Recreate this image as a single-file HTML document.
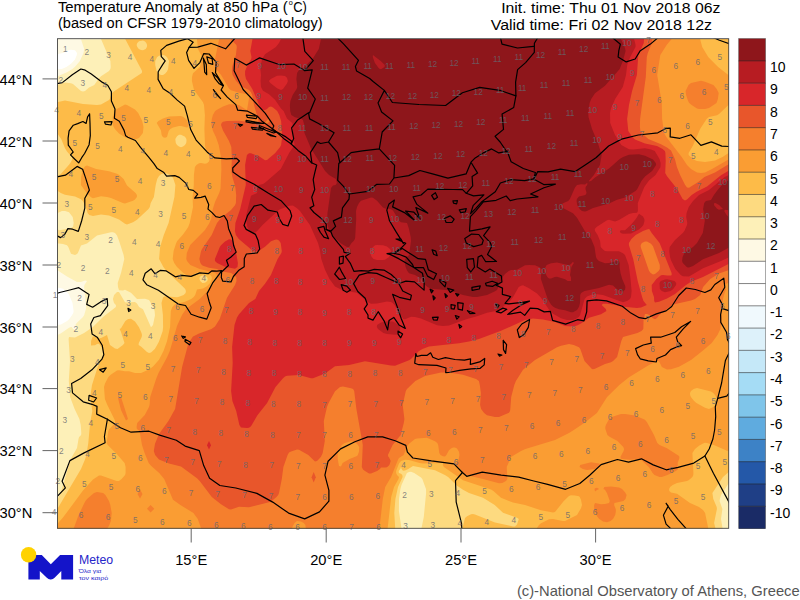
<!DOCTYPE html>
<html><head><meta charset="utf-8"><title>Temperature Anomaly at 850 hPa</title>
<style>
html,body{margin:0;padding:0;background:#fff;}
body{width:800px;height:600px;overflow:hidden;position:relative;font-family:"Liberation Sans",sans-serif;}
svg{position:absolute;left:0;top:0;}
svg text{font-family:"Liberation Sans",sans-serif;}
</style></head><body>
<svg width="800" height="600" viewBox="0 0 800 600">
<rect width="800" height="600" fill="#fff"/>
<g shape-rendering="geometricPrecision">
<rect x="57" y="39" width="672" height="489.5" fill="#fff"/>
<path fill="#FEF9E4" d="M71 49.7L75 50.3L77 53L76.8 55L75 59.4L71 63.8L66.4 67L61.8 69L57 69.2L57 288.3L59 287.8L63 288.7L67 292L69 294.6L72.5 303L73.6 311L73.3 313L72.1 315L69.3 319L67.1 321L61 324.5L57 325.1L57 528.5L729 528.5L729 39L57 39L57 54.9L59 53.8L63 53L69 50.0Z"/>
<path fill="#FDF0B8" d="M81 39.2L84.2 49L83.5 53L79.9 61L75 66.8L72.4 69L67 72.2L57 76.5L57 269.9L67 276.6L77 281.9L81 282L85 280.6L87 281L84.4 285L84.1 287L86.1 305L85.9 309L84.2 315L83 316.9L76.7 323L75.4 325L77 326.9L77 329L75 330.3L73.1 329L71.7 327L71 326.9L69 327.7L61 333.2L57 335.3L57 440.3L58.1 449L57 470.5L57 528.5L729 528.5L729 39.0Z"/>
<path fill="#FDDA80" d="M101 39L110.4 61L110.7 67L110.4 69L109 71L101 76.3L98.4 79L94.3 85L89 87.6L85 91L83 91.6L81 91L73 83.9L71 83.3L65 82.6L57 84.9L57 214.5L57.7 213L61.9 211L65.1 211L69 212.3L72.7 217L73.7 223L73 226.8L71 228.1L61 230.1L59 230.2L57 229L57 243.3L63 244L67 245.2L68.3 247L71 253.8L75 254.9L77 254.1L77.9 253L81 245.5L87 243.6L97 235.5L111 232.2L113 232.3L115 233.1L117 235.6L119 240.7L123.6 255L124.3 259L121 273L117.7 283L118 287L119 290.3L123 290.5L125 289.8L131 292.7L137 298.9L145 298.7L149 300.1L150.9 303L151.4 305L153.3 307L154.6 311L155 315.2L153 324.9L151 327.3L143 309.2L139.1 307L137 303.4L135 301.9L127 302.5L125 302.2L119 292L117 291.9L114.1 295L112.9 299L114 303L115.9 305L115.9 307L103 317L92.9 327L84.1 333L75 337.6L69 337L68.6 339L70 361L68.8 381L70.1 397L74.6 409L79.4 419L80.7 425L81.3 433L81.1 435L79.1 437L78.5 439L77 447.9L70.7 459L60.7 493L57 500.6L57 528.5L401.5 528.5L398.9 511L399 498.9L400.4 489L401.5 485L406.9 473L409 472L411 471.8L414.2 473L421 477.5L422.3 479L426 489L426.1 493L423.8 517L421.4 528.5L722.6 528.5L721 519L722.4 509L719.6 501L719.9 499L721 494.9L729 482.7L729 39.0Z"/>
<path fill="#FDBB48" d="M125.2 39L142.1 71L141.8 73L114.5 91L112.1 93L111 94.9L109.8 99L109 100.1L101 104.5L97 104.9L83 103.9L65 100.6L57 102.2L57 133L61.2 139L65 148.2L67 151.4L71.8 157L72.4 159L71 162L69 164.7L61 173.7L57 177L57 190.6L60.8 193L65 194.8L75 196.4L81 199.3L82.8 201L84 203L85.9 207L87.6 213L89.2 215L93 216L101 214.6L109 215.5L119 219.6L125 223.8L127 224.5L133 222.3L137 219.8L148.5 209L149.8 207L150.7 203L153.9 197L155.7 185L157.2 179L159 176.1L161 174.2L165 173L167 173.4L169.9 175L173 177.7L175.4 185L174.4 197L168.6 223L163.8 235L160.1 247L159.1 259L163.4 267L166.4 271L183 286.7L185.2 289L185.9 291L185.6 293L183.6 295L179 296.8L177 297.2L165 296.3L163 297.5L161.5 303L162.9 315L163.1 327L162.7 331L159 341.4L157 345.2L154.8 349L151 352.4L149 353.1L147 352.1L141 346.4L138.6 345L138.8 343L141.7 337L142 335L141.5 333L139 327.3L135 321.5L131 318.7L128.1 319L125.3 321L121 328.3L119.6 329L121 331.9L124.5 343L122.9 345L117.5 349L115 348.6L110 345L107 335.1L101 337.9L99 338.2L95 336.6L93 336.5L92.5 337L91.1 341L91 345.5L95 345.2L97 344L99 343.8L101.4 347L103.4 353L103.4 355L97.7 367L92 385L90.2 397L92.3 411L90.1 423L88.3 443L86.4 455L85 459.6L81 469L57 509.6L57 528.5L395.2 528.5L394.3 513L395.4 499L398 487L402.6 477L402.3 475L401 473.8L398.9 473L398.7 471L400.3 469L401 466.7L401.6 469L403 470.8L405 470.5L408.3 469L413 466L435 470.3L444.9 475L448.1 477L457 485.8L463 489.8L469 493L483 497.8L494.7 505L503 512.7L517 517.8L518.8 519L517 524.4L515 526.5L513 526.5L495 522.4L475 514.6L473 514.1L471 514.3L467 516.2L465 518.1L462.4 528.5L715.5 528.5L714.1 523L716.9 509L716.7 507L713.3 499L712.4 493L723 477L729 471.8L729 39.0ZM147.1 45L146.9 47L145.7 49L143 50.3L141 50.1L138.8 49L137.3 47L136.6 45L137.3 43L139 41.3L143 40.6L145 41.6L146.3 43.0ZM167 57.2L169 61L168.1 69L167 71.5L165 73.7L163 75.1L161 74.9L159 73.9L156.6 71L155.2 65L155.2 61L157 57.3L159 55.7L163 55L165 55.4ZM185 136.7L186.4 139L186.5 141L186.2 143L185 145L183 146.5L181 147.2L179 146.6L177 145.1L175.8 143L175.3 139L177 136.2L179 134.8L181 134.7ZM207 276.9L207.8 279L207.3 281L205 282.8L202.4 283L200.2 281L199.5 279L199.8 277L201 276.1L203 275.2Z"/>
<path fill="#FA9D33" d="M196.9 39L198 49L201.1 55L201.9 59L199.8 67L193 73.2L192 77L191.9 81L193.8 89L194.8 91L203 102.3L204 105L204.9 115L204.4 129L205 145.8L205.9 149L209 155L209.6 159L209 161.4L207 163.2L205 163.7L201 162.9L199 163.3L196.4 165L194.9 167L193.9 175L193.8 185L192.6 197L193 207L189.7 223L188.2 227L186.9 229L183 234.4L177.2 241L176.2 243L173.6 251L172.7 259L174.2 263L177 267L183 272.8L189 277L191 276.8L192.5 275L195.9 273L199 272.3L203 272.3L206 273L210.4 275L211.8 277L211.8 279L210.2 283L207 286.3L203 288.5L197 289.6L195.2 295L193.7 297L191.2 299L185 301.7L175 304.3L172.3 307L170.8 311L170.1 327L167 341.2L163.5 351L159 359.8L153 366.5L149 369.6L141 373L135 373L129 371.2L125 371.2L119 370.3L117 370.6L111 374.4L108.4 377L105 383.4L104 387L104.9 399L107 404.3L115 420.6L115.1 423L109.3 429L108.3 431L106.6 443L107.7 445L117 454.3L124.6 463L125.6 467L125.6 473L125.1 475L121.6 479L119 481.1L116.6 481L101 475.4L99 475.5L93 479.5L83 490.5L63 517.6L57 524.2L57 528.5L387.6 528.5L391.2 497L394 487L398.5 479L399 477L397 475L396.1 473L396.1 471L399 463.5L401 461L405 459.8L409 460L419.5 463L423 463.4L443 462.9L442.8 465L443.9 467L463 480.2L491 489.6L493.4 491L501 497.8L509 501.1L513 502.5L525 505L541 510.3L553 512.5L555 512L563.8 501L569 496L571 495.2L575 495.4L579 496.3L579.7 497L581 499.7L582 505L581 508.2L577 515.1L565 521L562.7 521L553 519.1L549 519.3L541 523.2L539 525L536.6 528.5L708.3 528.5L705.1 513L703 510L699 506.9L690 503L677 493.7L671 492.5L669.3 491L669.1 489L670.1 487L672.7 485L677 483L687 481.1L689 480L692.4 477L693.3 475L693.4 473L692.4 453L695 449.1L699 445.7L703 443.5L705 442.8L707 443L713.8 445L727 450.7L729 450.9L729 152.8L722.5 157L715 160.5L705 162.1L697 160.9L693 159.3L688.6 155L688.6 153L693 145.5L700.1 129L706.6 119L709 117L717 115.2L719 114.1L729 104.5L729 75.6L718.1 67L708.2 57L702.2 47L700.1 39.0ZM697 387.9L711 391.6L713.3 393L715 395L716.2 397L716.5 399L716.1 403L715.5 405L713.4 407L709 408.9L705 407.7L696.4 403L694.1 401L690.9 397L690.1 395L690 393L691 391L693.6 389.0ZM125 104.5L116.8 109L114.8 111L112.7 117L112.7 125L114.8 129L119 133.6L125 137.2L131 139.2L136.5 139L139 138.1L142.9 133L143.5 127L142.2 121L138.2 113L135 109.4L127 104.9ZM163 118.4L158.4 121L156.7 123L161 130.5L161.6 135L163 137.3L165 137.7L167 137L168.7 131L170.3 129L173 127.5L179 126L181 125.9L187 127.5L188.2 127L188.5 125L187 120L183.5 117L181 115.9L169 116.6ZM83.1 169L81.1 177L80.9 185L86.7 193L91 197.2L93 198.3L101 196.3L107 197L111 198L122.8 203L125 203.4L133 200.8L135 199.6L136.9 197L136.9 195L135.6 193L127 185.5L123.6 179L119.2 175L117 173.7L109 171.3L96.1 169L87 165.4L85 166.2Z"/>
<path fill="#F57F2D" d="M219.2 39L215 59L215.2 67L216.2 69L221.1 75L229 88.4L231 90.3L239 92.8L247 94.2L248.6 95L249.2 97L247 110.2L239 105.1L233 104.2L229 104.3L223 106.5L217 109.7L215 111.3L212.9 115L211.8 119L211.3 125L213 131L215.9 137L218.7 145L221 157L221.4 169L220.5 189L219.2 193L215 202L212.8 209L211.2 219L209 223.8L205 230L190.2 245L186.8 253L186.3 259L187 261.1L190.4 265L199.7 269L215 272.7L217.2 275L217.3 277L212.7 285L207 291.8L199.7 299L186.1 309L182 315L177 326L169.8 351L167.2 357L158.5 373L156.1 379L150.2 397L149.6 405L149 407L144.8 415L137.2 423L136.6 427L136.9 429L139 430.6L139.9 433L142 445L144.6 453L148.7 463L151 465.7L159.2 473L164.2 479L173 499.7L180.4 505L193.4 513L197.8 519L201.2 528.5L292.2 528.5L292.4 527L294.5 523L297 521.1L301 521.6L303.8 523L305.4 525L305.8 528.5L379.4 528.5L382.8 499L385.2 487L391.1 477L398.3 459L399 458L403.7 455L407 446.5L409 443.8L415 439L417 438.5L427 437.7L435 441.2L437.3 443L438.2 445L439.3 453L440.5 455L443 456.3L445 456.6L446.4 455L449 450.3L451 448.6L453 447.5L455 447.5L457 448.5L459 451.7L459.5 455L458.7 459L457 461.9L455.7 463L455.8 465L459 466.9L463.7 473L466 475L483 478.9L499 483.3L502.3 483L506 481L507.4 479L506.7 467L511 457.1L513 455.7L521 450.9L525.4 449L555 439.9L569 433L573 430.5L584.2 423L596.9 413L607.1 397L619.3 385L629 377.2L649 364.9L657 361.1L659 360.9L661.8 367L667 369.4L671 369.2L679 366.7L691 359.9L703 350.4L711.7 343L717.5 335L720.4 329L721.8 317L720.6 311L720.7 309L724 295L726.1 289L724.4 287L724.5 285L727.6 283L729 282.7L729 159.3L712 169L705 172.4L701 173L697 172.5L691 169L687 165.1L681.7 157L666.3 137L664.1 133L662.1 119L661.8 103L657.2 75L660.3 55L667 44.5L671.7 39.0ZM357 443.8L359.3 447L359 451.6L357.8 455L357 455.9L349.5 459L342.6 463L341 466.6L339 466L337.7 459L337.7 453L341.8 445L344.7 443L351 441.2L353 441.5ZM691 82.9L688.5 85L685.6 91L686.1 95L688.1 101L689.2 103L691.6 105L697 108.4L699 108.9L705 109L709 108.1L716.5 103L717.9 99L718.7 93L716.7 89L713.4 85L705 81.7L701 80.8ZM611.5 417L609.1 419L605.9 425L605.3 427L605.4 429L607.4 435L610 437L617.5 441L623.3 447L624.1 449L623.6 451L620.4 457L621 458.7L629 459.8L639 459.2L641 459.8L649 467.2L652.6 473L654.5 475L659.5 477L661.8 477L667.4 475L675.9 471L678.2 469L677.6 463L679.1 459L679.4 457L679 456.1L667 448.2L659.6 445L657.3 443L654 435L647 422.3L645 419.8L635 415.5L625 414L621 414.1ZM591 462.3L580.1 465L579.6 467L582.8 469L587 469.9L595 468.9L599.2 467L601 465L599 463.4ZM605 489.8L607 493.2L609.8 501L609 502.9L605 504L601 504.2L595 503L594.2 505L594.1 507L594.5 511L597 516.2L599 518.8L603 521.6L607 522.2L610.5 521L613 519L615.2 515L615.9 511L615.7 509L614.1 505L614.4 503L623.4 501L625.5 499L626.6 495L625 492.2L622.1 489L619 487.6L611 486.4L604.3 487L603.4 489.0ZM594.5 489L595 491.6L597 489.9L599.1 489L597 487.7L595 488.2ZM94 493L87 498.9L85 501.8L78.6 515L73.7 528.5L107.2 528.5L109 525.7L110.9 521L111.7 513L110.3 505L109 501L105.4 495L103.1 493L97 492.1Z"/>
<path fill="#E8562B" d="M230.6 39L236.4 45L236.8 47L235.9 55L232.1 67L231.9 71L232.6 75L236.1 81L239.8 85L242.4 87L249 89.9L251 92.3L252.2 95L254 105L258.6 121L257 122.9L239 120.8L227 120.9L223 121.8L221.6 123L221 125L223 130.4L229 141L231.3 147L231.9 159L231.3 171L232.4 177L235.3 187L236.2 195L235.9 203L235 205.2L231 210.1L221 217.9L217 223L211.7 235L202 249L201 251.2L199.4 259L200.4 263L201.8 265L203 265.7L209 267.8L217 269.1L221 271.2L231.2 273L236.2 277L236.5 281L235 285L227 297.7L219.7 319L215 326.4L211.5 329L199 333.5L193 336.6L188.5 343L182.1 367L175.1 409L168.4 421L159 433.9L155 443.8L153.8 451L155.1 455L159 459.5L169 463.6L181 466.5L197 478.3L199.7 481L211.8 497L221 504.2L229 509.3L231 509.5L239 506.8L249 507.3L269 502.3L271.8 501L276.5 497L278.2 495L279 493L281.8 479L283.4 467L287.6 455L289 452.6L291 451.4L297 449.4L299 449.8L308.3 455L315 461.5L317 461.1L319 459.1L321 456.8L322.7 453L324.8 441L323.8 421L327 407L328.6 403L335 391.3L340 387L343 386.4L351 388.2L353.1 389L354.2 391L356.4 409L362.8 445L361.8 467L363 469.6L365 471.1L369 473.4L371 473.4L377.1 471L379.9 469L381 467.4L385 467.6L387 467.2L389.4 465L390.7 461L389 457.2L388.4 457L387.9 455L392.6 445L400.7 435L403.8 423L404.4 419L402.7 405L405.8 391L407 389L415.3 381L425 376.1L441 372.5L451 372.7L463 374.7L476.1 379L478.9 381L479.8 385L480.9 393L480.1 405L481.1 409L484.1 413L487 415.2L495 417.1L499 416.9L509 412.7L510 411L510.3 409L511.2 397L514.3 385L515.9 381L523 369.7L535 360L557 347.2L561 345.7L569 344.1L573.7 345L579 347.2L580.3 349L584.5 361L591.9 369L593 369.3L595 368.8L605 364.1L611 362.2L613.1 361L617.1 357L621.3 341L623 337.1L637.4 333L641.5 331L643.3 329L643.6 319L645 314L647 313.9L649.3 315L653 318.2L655 319.2L657 318L659.3 315L661.7 313L673 304.5L691 300.5L695 299L700.2 295L703.1 287L710.2 279L719 273.6L729 269.9L729 164L715 172.6L704.4 177L699 181.4L689 187.8L687 187.6L685 184.8L680.1 175L676.9 167L674.9 159L671 150.6L667 147.5L661 144.2L648.3 139L643.9 135L640.4 131L639.9 127L640.1 119L645.8 77L646.8 57L647.8 53L651.9 43L652.3 39.0ZM269 121.9L267 123.6L265 123.9L262.6 123L265 122.2L269 118.3L269.9 119.0ZM647 241.4L651 243.7L653 246.3L659.8 265L659.8 269L658.6 271L655 273.9L653 274.4L650.7 273L649 270.7L640.7 247L640.7 245L641.9 243L645 241.4Z"/>
<path fill="#D8262A" d="M252.5 39L250.3 51L251.5 57L251.2 59L247.6 65L245.1 71L245.1 75L246 79L252.3 89L261 109.3L263 110.2L265 110L267 109.1L269 107.1L271 106.6L273 107.4L277.2 111L279.3 115L281.1 121L282.2 137L281.1 145L280.1 147L275 153.3L267 159.9L265 160.2L259 156.3L251 153.3L249 153.3L246.9 155L245.1 165L245.8 185L240.2 209L235.4 223L234.9 231L235.9 235L238.8 239L253 251L255 251.8L259 250.7L265 246.8L271 241.3L275 239.7L277 239.5L279 240.4L280.7 243L281.8 251L281.4 253L277.6 259L270.9 275L265 283.7L259 290.9L255.3 299L249 303.1L239 314.2L237 317.5L234.5 325L232.1 347L232.7 363L231.1 391L232.4 401L236.2 411L239.4 425L241 427.4L247 428.1L249 427.8L251 426.2L257.6 415L267.1 403L275.5 387L283 378.2L285 376.5L287 375.8L299 375.1L311 378.3L313 378.3L325 373.5L335 366.3L349.2 365L365 361.2L391 365.5L395 365.7L409 360.3L411 359L419 351L422.4 349L429 346.4L459 343.2L469 341.5L479 339L501 330.8L525 320L533 318.6L543 319.5L555 322L565 326.1L573 326.4L577 325.5L581 323.5L589 317.8L601 314.2L606.4 311L605.8 309L601.6 305L603 303.8L607 303.8L615.1 305L621 306.6L637 308.1L641 307.5L646.8 305L643.5 301L642.1 297L637.7 281L633.2 259L628.9 245L628.9 243L631.4 239L635.7 235L643 230.9L647 229.5L649.2 229L651.7 233L659.6 243L671.6 273L671.7 275L671 275.4L667 275.6L663 274.9L661 275.2L656.4 279L651.7 285L651.9 291L654 297L654.2 301L655 302.5L659 301.7L667 298.5L675 293.9L686 285L691 281.7L703 276.9L729 263.7L729 170.4L721 175.3L707 186.6L697 191.4L691.7 195L687 199.4L685 200.4L682.6 199L677 188.8L667 176.3L665.2 173L665.7 161L665.4 153L664.9 151L662.6 149L657 146.1L645 143.5L635 139.5L632.3 137L628.3 131L627.1 119L629 105L632.1 91L636.9 75L638.3 55L643.8 43L644 39.0ZM225 241.5L221 245.2L219.8 247L214.9 259L215 261L217.1 263L225 266.8L235 268.8L237.5 267L237.9 263L235.8 251L233.1 241L231 239.4L229 239.2Z"/>
<path fill="#B71C22" d="M279 43.1L275.9 47L265 54.2L262.2 59L260.2 67L261 75L260.6 81L261 87L263 90.8L269 94.3L275 99.7L281 108.6L283.6 111L287 118.4L292.2 123L292.8 125L293 133L294.6 145L289.1 153L280.8 169L265 182.8L263 184.1L258.7 185L257.7 187L257.1 193L251 195.8L246.2 215L246 219L247.4 227L249 230.3L251 232.2L253 232.9L255 232.6L257 231.2L262.5 225L279 209.7L289 205.8L293 205.6L297 208.2L300 211L309.9 225L318 243L319.7 249L321.3 259L325 269.8L329.5 279L335 286.6L343 290.6L357 292.7L367 301.6L371 303.7L377 303.4L387 301.5L391 302.1L392.7 303L394.5 305L403.3 319L405 319.3L411 316.8L415 316.9L421 318.6L437 325.3L443 326.1L449 325.5L467 319L477 316.3L487 312.8L497 310.7L503 306.8L510 301L513.1 297L518.7 287L521 285.7L523 285.3L529 288.2L537 293.5L541 297.7L548.6 309L553 313.8L561 318.2L567 319.9L573 319.9L575.6 319L579 316.8L580.1 315L584.6 299L587 296.6L590.7 295L595 294.1L603 295.1L623 302.2L627 301L630 299L631 297L631.6 291L630.5 279L628.7 265L625 255L623 253.2L619 251.2L607 251.2L605 250.9L603 249.6L600.7 247L600.1 241L597.6 235L595 231L594.7 229L596.5 227L607 220.2L609 219.7L615 221.6L619 219.9L629 214L633 212.9L637 212.8L637.9 211L637.8 203L644.3 187L649 180.4L655.5 175L660.5 167L660.6 163L659.5 159L654.8 151L651 149.4L645 148.3L633 149.4L629 149.3L621.3 145L615 135L610.2 123L610 113L610.8 109L615.1 99L622.8 87L626 75L627.2 65L630.2 57L635.5 47L635.6 45L634.1 39L281 39.0ZM285 75.9L287 77.8L287.9 81L287 83.4L283 88.9L281 89.9L277 88.2L270.3 83L268.9 81L270.8 79L277 75.7L281 75.4ZM383 245.2L387 246.6L390 249L390.9 251L390.7 253L389 257L385 259.8L383 260.1L377 260.1L373.5 259L371.7 257L370.8 255L370.3 251L371 249L375 245.3L377 244.9ZM724.7 177L709 189.9L699 195L693 201L688.7 207L686.6 213L686.2 217L687.3 223L687 225L684.4 231L682.8 233L675 240L669.7 247L669.3 251L670 257L671 260.2L675.3 269L681 275.2L683 276.3L689 276.6L703 268.2L721 261L729 257.2L729 175.0ZM635.8 219L631 224.7L625 230.3L621 230.2L619.8 231L620.6 233L623 233.8L631 233.4L639 229.4L641.7 227L643.4 225L644.5 221L644.3 219L643 216.5L639 213.8ZM659.5 283L659.9 289L661.8 291L665 292.3L670.6 291L673 289.3L676.1 285L676.2 283L674.5 281L667 279.3L665 279.4L660.7 281.0ZM387 321.2L381 322.4L377 325L376.9 327L378 329L383.4 333L387 334.1L395 334.8L397 334.6L399 333L400.2 329L400.1 327L399 325L393 321.5Z"/>
<path fill="#8E161B" d="M321 39L318.8 49L313 58.2L304.3 67L299 70.1L297.1 73L296.4 79L297.3 87L296.6 89L292.7 95L290.4 101L289.9 105L290.2 111L291.3 115L295 117.2L301.8 119L303 120.3L304.3 125L304.1 131L304.5 133L311 148.6L325.1 171L329 175L335.9 179L336.9 183L335.6 185L333 185.6L331 188L327.5 213L327.1 223L329 229.9L330.7 233L335 238.1L341 243.5L347 246.9L349 246.9L351.5 243L353.6 241L354.9 239L355.2 237L356.2 219L356 211L357 207L359 203.1L361 200.8L371 197.5L373 197.7L377 200.8L383 207.6L385 208.6L391 209.3L393 210.6L399.4 221L401 222.2L407 223.1L409 229L410.7 237L411 241L409 255L405 259L404.4 261L405.6 267L407 270.5L409 273.3L415 275.1L419 277.3L421.1 279L425.2 285L427.6 287L431 288.8L449 290.2L463 295.1L473 297.1L477 297.1L487 295L495 291.3L497 289.9L503 276.4L505 273.9L508.7 271L511 270.1L517 269.7L525 265.3L529 264.9L535 265.3L539 267L541.8 269L542.4 271L542.1 273L541 274.8L540.9 279L547.7 299L551 304.5L553 306.5L555 307.8L559 309.2L565 310.3L571 312.2L573 312.2L577 309.9L579 306.8L580 303L580.2 295L581.1 293L584.5 291L599 288.1L609 284.8L613 285.5L617 289.3L621 291.2L623 291.4L625 289.7L625.4 287L625 285.5L622.2 279L620.5 273L619.6 267L619.7 263L619 261L617 261.1L609 263.1L605 263.3L598.9 261L596.9 259L596 257L594.5 247L591.2 239L584.8 231L577 217.8L573 213.2L560.9 207L561 205L563 203.3L568.2 201L569.9 199L575 187.5L577 185L581 184.2L585 184.5L587 182.9L587.4 183L587.2 185L585.6 187L585.5 189L586.6 193L585.4 195L579 196.5L576.9 199L576.6 201L577.2 205L579.7 209L581.9 211L585 211.6L586.9 211L593 208L609 203.6L617 199.7L625 197.4L635.4 191L637 189.4L641.4 181L645 176.5L652.1 171L656.1 165L655.8 163L653 159.6L645 155.8L639 154.2L629 154.7L623.1 157L619.7 159L609 168.5L595 177.5L591 181.1L589 181.5L588.8 181L593.9 175L599.9 165L601.7 155L597.9 143L592 129L588.5 117L588.3 113L589.6 103L591.2 99L595 93.3L605 85.8L619.7 69L623 60.6L625.6 51L625 48.1L621 39.0ZM372.9 55L380.7 61L384.8 65L384.5 67L381 69.2L379 68.6L374.9 63L372.8 57.0ZM557 262.4L569 265.2L571 264.1L573 261.7L573.8 263L571.4 267L570 275L571 277.4L571.1 281L567.7 281L565 279.3L557 276.8L554.8 277L551 278.5L549 278.6L547.3 277L544 271L544.4 269L546.7 265L551 263.3ZM727 181.1L723 183.9L718.4 189L713.9 195L711 200L705.9 201L704.2 203L703.1 209L704.6 217L704.8 221L702.8 233L697 243.1L693 247L684.4 253L682.6 257L682.1 261L682.8 263L687 267.3L689 267.4L693 265.9L703 259.2L719 253L729 247.6L729 217.6L726.6 215L724.2 211L725 209.7L729 210.2L729 180.4ZM715.4 203L719.1 205L723 209L719 209.7L717 208.7L713.9 205L714.3 203.0Z"/>
<path fill="#D8262A" d="M209 441L211 445.300L209 449.500L207 445.300Z"/>
<path fill="#F57F2D" d="M140 489.500L142.500 494L140 498.500L137.500 494ZM150.600 505L154.300 508.700L150.600 512.500L147 508.700ZM118 398L121 397L124.500 408L128 419L126 420.500L121 410Z"/>
<path fill="#E8562B" d="M313.700 472L315.800 477.300L313.700 482.500L311.600 477.300Z"/>
</g>
<defs><clipPath id="fc"><rect x="57.500" y="38.7" width="671.2" height="489.6"/></clipPath></defs>
<g fill="none" stroke="#000" stroke-width="1.2" stroke-linejoin="round" stroke-linecap="round" clip-path="url(#fc)">
<path d="M36.4 89.8L50.7 84.7L62.3 82.6L72.3 74.7L80.9 69.0L85.2 70.2L91.3 74.0L102.5 82.4L107.7 85.2L111.4 91.8L111.4 101.0L115.0 109.1L114.4 118.3L119.3 121.3L124.0 130.1L125.7 135.8L127.8 137.3L135.4 140.5L140.5 147.4L148.7 157.1L153.9 163.7L157.3 168.6L163.5 172.2L166.6 176.2L174.8 175.6L179.2 177.4L185.7 183.1L188.8 189.5L193.3 190.4L197.7 194.1L194.7 198.2L201.0 197.3L205.1 196.1L208.7 204.6L208.0 209.1L211.8 212.4L215.8 216.6L219.7 217.5L224.0 215.5L227.3 220.9L228.6 228.7L232.4 237.8L233.7 245.8L236.2 252.1L230.7 257.3L226.5 260.2L228.4 265.5L221.6 272.0L221.3 277.5L222.8 281.2L231.0 281.9L233.4 276.5L238.5 270.6L244.2 266.8L244.3 258.5L246.4 254.0L257.2 252.9L259.7 249.0L258.1 240.6L255.5 234.4L246.2 229.4L244.0 225.4L247.5 215.7L254.1 206.1L261.2 204.5L268.0 210.2L277.3 212.0L279.4 218.8L282.8 224.4L288.0 226.0L291.7 216.0L290.1 210.7L281.0 200.7L268.5 193.3L254.2 184.3L241.4 177.9L232.9 172.0L232.7 168.0L239.4 161.0L236.6 158.4L226.3 158.8L214.9 157.9L207.3 152.2L196.1 140.1L190.7 129.6L187.3 115.6L184.6 106.1L177.3 100.1L170.1 93.3L163.2 88.8L158.1 79.4L158.2 71.7L162.8 64.4L165.2 60.9L161.3 56.6L160.8 50.4L166.6 45.4L178.8 41.1L187.6 38.7L193.2 42.2L189.1 47.4L186.6 52.4L188.6 60.3L194.0 68.4L199.9 62.6L203.8 53.6L209.1 54.0L216.2 62.1L215.5 72.8L219.5 79.2L223.5 85.5L221.1 90.0L227.3 97.1L235.8 104.6L237.7 110.2L247.6 111.2L257.4 116.2L261.7 120.9L269.3 126.4L274.8 130.5L283.6 138.4L291.3 144.1L293.6 146.3L298.0 150.4L305.9 156.3L311.5 162.8L316.7 165.0L314.8 172.6L313.2 179.7L314.7 189.5L311.7 197.2L313.9 205.8L310.0 207.9L313.9 212.5L321.6 218.7L326.2 224.2L326.2 229.5L331.0 231.9L332.6 236.2L338.1 243.2L343.4 249.3L344.1 252.4L350.1 253.3L345.3 256.4L350.2 263.1L353.9 271.3L361.1 270.6L368.3 271.1L374.3 269.4L383.9 270.1L391.2 274.5L397.5 280.4L397.5 282.6L386.5 277.7L376.8 273.4L368.3 272.6L359.2 275.2L353.6 283.6L357.8 291.5L365.2 298.2L367.3 304.3L364.2 308.9L368.0 315.0L368.0 318.1L373.0 320.1L378.2 311.7L384.1 320.8L387.6 329.9L389.0 320.6L393.8 317.4L399.0 324.9L405.3 328.4L401.3 318.7L397.2 306.6L392.6 294.4L399.3 297.3L410.4 299.9L411.4 295.3L402.7 291.0L398.8 283.5L406.0 281.1L414.5 281.9L424.1 290.1L424.2 282.4L422.5 273.3L413.8 267.5L406.5 263.2L399.1 258.9L390.6 254.6L387.0 253.7L394.1 252.9L401.1 248.1L405.7 243.3L399.6 240.4L396.0 239.0L400.8 238.9L403.3 243.4L395.8 231.4L389.5 220.8L386.8 210.1L389.0 203.9L394.4 200.1L392.6 206.9L404.4 212.6L414.1 219.9L405.6 211.0L413.8 212.2L420.0 219.0L415.9 207.5L427.9 213.1L416.9 204.4L413.1 196.9L421.1 195.0L427.8 189.1L441.7 189.3L453.3 189.5L462.6 189.6L466.3 193.3L473.5 195.9L483.9 194.8L473.1 205.7L470.6 213.6L475.6 208.6L482.1 201.4L495.3 191.7L500.4 183.0L510.5 179.6L524.6 180.7L533.7 178.9L535.4 172.5L523.3 168.5L511.1 161.7L508.1 153.6L500.1 142.0L495.1 136.3L503.5 129.4L502.1 114.1L513.7 107.5L515.9 95.9L515.6 82.1L517.6 69.6L525.6 62.6L534.3 52.4L534.4 43.2L543.4 28.3L551.0 19.7M534.8 177.8L537.6 171.7L548.1 171.8L560.6 169.1L574.9 171.7L587.8 163.3L596.3 157.5L608.6 146.0L621.5 139.1L638.3 135.0L657.8 132.8L666.3 128.3L670.3 128.2L670.2 136.9L679.9 138.3L691.0 134.8L700.9 145.4L711.4 141.9L721.8 146.1L736.4 146.9L753.0 145.9L775.4 138.0M533.7 178.9L543.7 184.6L555.4 184.2L544.0 187.7L530.6 194.0L538.0 196.9L517.1 199.0L510.2 200.6L506.2 196.0L496.1 200.3L483.3 201.9L475.8 210.8L470.4 216.7L469.5 231.2L481.9 228.8L490.1 226.9L483.6 235.7L490.1 242.3L491.7 246.5L487.5 254.5L496.5 261.5L485.7 261.7L481.6 255.3L478.1 257.1L477.2 267.0L485.3 271.9L489.9 269.1L501.4 275.9L501.9 282.0L496.1 285.2L502.5 288.1L502.3 294.3L510.6 296.6L505.0 303.3L508.8 303.9L522.2 302.4L529.5 301.1L521.2 304.9L513.0 310.3L507.7 314.4L520.6 312.1L524.7 315.4L530.2 308.1L537.7 308.6L544.2 311.9L550.4 311.3L552.6 320.3L565.6 324.1L577.6 319.7L584.0 320.8L586.7 311.8L587.1 300.9L596.4 299.8L606.5 300.9L622.3 306.2L630.9 313.1L639.2 317.7L645.2 318.7L656.4 313.9L666.1 310.9L671.7 306.5L678.7 295.5L686.3 288.0L695.4 289.5L704.9 292.5L710.8 289.9L714.8 284.5L723.8 278.2L724.8 287.3L718.7 297.8L722.6 304.9L720.6 314.6L720.8 322.4L726.5 332.2L727.5 339.8L732.1 347.4L728.8 353.6L725.4 360.5L723.5 371.7L721.6 383.0L719.3 392.1L717.7 398.3L715.3 406.9L715.7 416.8L714.6 430.0L712.9 439.0L709.2 449.0L704.9 456.0L693.8 463.1L678.1 467.4L666.2 469.8L653.2 464.9L641.5 458.8L628.5 462.1L617.4 459.5L601.1 464.6L589.7 475.2L579.8 483.5L565.6 489.3L547.6 484.3L533.8 481.0L518.7 477.1L501.2 475.1L482.3 472.2L466.7 476.3L462.4 472.5L454.0 463.8L431.4 460.9L412.9 458.0L407.4 452.1L405.8 445.4L395.2 440.8L382.6 436.9L367.8 436.9L354.9 441.7L340.6 448.9L328.1 461.2L324.9 475.1L328.9 490.4L328.9 501.2L319.5 511.9L304.7 518.9L288.6 513.1L272.7 502.1L256.9 493.4L235.8 488.0L219.9 485.5L209.6 478.2L203.7 465.6L199.3 450.6L185.1 446.1L176.3 440.3L159.7 435.1L149.0 431.2L131.1 432.2L120.5 427.8L107.4 419.2L96.7 414.1L97.0 406.4L92.0 404.3L83.2 401.8L72.5 392.9L71.6 383.5L80.7 378.4L91.9 369.8L102.0 359.1L103.8 354.7L102.2 345.2L97.5 337.6L92.1 334.0L90.7 323.9L93.9 317.5L100.4 315.7L107.7 305.7L107.2 298.6L100.6 301.9L92.6 307.2L86.7 304.4L89.1 294.4L83.3 290.7L78.8 287.7L69.8 290.0L59.6 292.5L50.4 295.6L39.3 295.1L26.9 294.3M221.7 270.7L219.1 274.3L212.5 283.2L207.1 293.6L209.1 301.4L211.2 307.7L206.8 319.1L199.5 317.2L191.1 314.2L185.5 305.5L178.2 304.1L169.6 297.9L158.4 290.3L146.7 284.7L143.0 279.8L145.2 273.2L151.2 268.8L154.9 273.7L160.1 270.4L166.3 270.9L175.3 276.8L182.0 275.4L191.1 276.4L199.8 272.9L208.2 273.7L212.0 270.8L216.8 271.1L221.7 270.7M38.1 169.0L54.0 172.7L58.2 176.7L65.4 175.2L77.1 166.4L82.6 169.3L85.5 177.6L89.4 190.1L84.8 198.3L84.8 208.1L81.6 221.0L78.3 231.4L72.6 229.2L67.9 228.6L64.7 234.4L60.6 237.6L55.0 234.7L50.4 232.5L29.9 223.5M89.6 113.9L90.0 123.2L90.3 135.6L89.1 144.7L84.6 153.5L81.7 157.7L78.7 162.9L74.6 159.0L70.5 154.8L73.2 152.0L68.3 145.2L68.1 138.1L69.1 130.8L73.3 125.2L77.7 123.6L82.9 121.5L86.1 123.4L87.6 116.8L89.6 113.9M415.8 353.5L416.9 356.5L421.4 355.4L426.9 355.4L430.6 352.8L432.8 357.3L438.4 359.5L445.4 357.6L455.0 359.5L464.4 360.1L470.6 358.8L470.3 364.4L479.7 361.9L484.7 358.4L484.2 364.9L480.2 368.3L471.1 368.9L459.5 370.3L448.7 372.5L445.7 372.6L446.0 368.0L437.0 365.4L430.4 365.1L418.8 364.7L414.7 363.3L415.8 353.5M635.6 348.6L637.5 354.6L640.2 358.8L648.3 360.8L656.3 362.0L657.0 358.5L665.5 355.0L670.6 349.6L677.1 346.7L681.6 345.6L677.6 341.6L676.3 337.2L683.2 328.9L690.6 321.4L681.5 326.7L674.8 332.5L660.6 337.2L650.6 337.1L651.3 343.2L643.3 345.0L635.6 348.6M394.1 253.5L402.3 248.6L408.4 252.4L418.2 258.7L425.5 259.3L428.4 269.9L436.5 273.8L433.7 279.5L427.5 276.1L423.5 267.7L413.8 267.5L412.5 264.5L406.2 257.1L398.9 254.3L394.1 253.5M464.8 238.6L471.6 234.1L478.8 234.5L483.3 240.4L481.9 244.5L473.7 246.6L466.3 243.1L464.8 238.6M466.7 259.4L473.4 258.6L474.5 267.2L470.8 272.0L467.3 267.7L466.7 259.4M485.5 283.3L492.1 281.2L497.6 283.2L492.5 286.4L486.4 285.7L485.5 283.3M529.6 319.5L528.3 327.4L524.0 334.6L519.3 337.5L517.3 329.9L521.8 324.0L529.6 319.5M444.6 218.4L450.3 215.9L454.1 219.3L451.9 222.5L446.0 222.3L444.6 218.4M431.6 195.4L435.4 192.7L437.5 197.2L434.2 199.6L431.6 195.4M452.9 200.9L457.5 200.7L456.6 203.8L453.5 203.1L452.9 200.9M459.3 209.8L466.3 208.7L465.3 211.8L460.7 212.7L459.3 209.8M432.1 249.8L435.8 251.1L437.2 255.7L433.6 254.3L432.1 249.8M439.8 279.5L446.0 282.8L445.0 286.9L439.9 281.6L439.8 279.5M447.6 288.3L453.8 290.1L450.2 292.4L447.6 288.3M457.7 302.7L463.2 303.3L462.4 310.1L458.1 309.2L457.7 302.7M451.0 304.7L455.2 305.4L454.2 309.1L451.2 308.7L451.0 304.7M432.5 317.4L438.2 317.1L437.1 320.2L433.4 319.8L432.5 317.4M455.3 315.5L459.1 316.8L456.8 319.1L455.3 315.5M458.9 324.5L461.7 326.5L459.8 328.1L458.9 324.5M430.1 289.2L433.1 290.6L431.5 292.8L430.1 289.2M432.9 295.8L435.2 297.9L433.6 299.8L432.9 295.8M444.9 293.7L447.3 296.0L445.7 297.6L444.9 293.7M455.7 293.6L458.9 294.4L457.3 296.0L455.7 293.6M467.4 310.7L474.9 313.3L470.0 313.6L467.4 310.7M398.0 331.1L402.6 334.0L400.7 337.8L398.1 334.2L398.0 331.1M503.2 340.4L506.6 344.7L505.6 353.4L503.5 349.6L503.2 340.4M498.0 354.0L501.9 355.0L499.5 356.1L498.0 354.0M496.3 311.7L502.9 308.1L506.8 309.3L500.9 312.9L496.3 311.7M495.7 304.0L499.0 305.3L497.5 307.6L495.7 304.0M471.9 287.4L480.3 285.8L479.3 289.0L472.1 290.4L471.9 287.4M341.2 284.7L346.8 286.2L350.5 290.1L346.9 292.3L343.2 290.2L341.2 284.7M334.7 274.0L339.4 267.2L341.9 272.4L345.5 278.5L339.5 279.5L334.7 274.0M339.4 257.0L343.4 256.1L343.0 263.2L339.4 264.1L339.4 257.0M318.0 227.9L323.9 226.4L325.1 231.0L328.6 238.7L323.9 237.1L320.4 232.5L318.0 227.9M185.2 339.3L191.0 342.5L189.6 344.8L185.0 341.5L185.2 339.3M181.7 336.0L185.4 336.9L183.3 338.3L181.7 336.0M89.1 395.4L96.6 398.0L93.6 402.0L88.6 400.3L89.1 395.4M99.6 369.7L106.2 367.9L103.2 372.2L99.6 369.7M128.0 308.3L130.8 310.1L128.7 311.5L128.0 308.3M104.5 121.8L112.0 121.7L110.9 125.0L105.4 124.1L104.5 121.8M203.4 58.2L206.3 64.5L206.7 74.7L204.7 72.1L204.1 64.4L203.4 58.2M206.8 56.9L212.1 58.7L212.8 64.3L208.5 63.1L206.8 56.9M212.3 72.6L217.4 77.5L222.4 85.5L219.3 83.8L215.2 78.9L212.3 72.6M213.4 89.6L218.5 96.0L220.6 98.6L216.4 94.4L213.4 89.6M246.4 115.2L257.4 116.2L256.2 118.6L247.4 117.4L246.4 115.2M246.1 120.4L252.8 121.6L263.9 123.5L252.7 123.1L246.1 121.9L246.1 120.4M251.4 127.3L263.7 128.7L262.5 130.2L252.5 129.2L251.4 127.3M238.2 124.0L242.6 124.8L240.3 126.3L238.2 124.0M266.9 133.4L275.8 136.7L270.2 135.6L266.9 133.4M259.3 125.5L269.3 129.5L275.9 132.1L273.6 133.0L265.9 130.3L259.3 127.0L259.3 125.5M609.7 35.0L614.1 39.0L620.4 44.2L618.8 50.7L618.1 57.0L626.2 61.9L635.2 59.0L640.0 51.1L650.4 44.1L658.7 37.1L662.4 32.7M692.8 28.7L700.6 33.4L712.7 37.3L719.4 40.3L732.5 44.7L745.0 49.3"/>
<path d="M462.4 472.5L455.5 480.6L456.2 502.1L461.5 523.3L463.3 554.0M107.4 419.2L104.4 436.5L105.1 442.7L84.1 452.9L69.9 460.6L62.1 481.3L65.4 487.9L54.6 499.0L44.6 502.5L37.3 506.2M47.2 295.5L37.4 308.1L36.1 326.5L32.3 344.6L28.5 362.7L18.3 370.5L8.1 378.4L5.9 384.3L17.8 410.7L20.4 429.7L38.5 444.5L43.4 500.8M704.9 456.0L713.4 473.2L731.9 507.5M733.3 416.8L736.9 436.4L737.4 453.5L735.1 478.8L733.6 505.6M717.7 398.3L726.7 396.1L731.0 390.6L734.6 388.4M731.2 347.0L742.4 346.4L749.9 357.5L744.3 369.5L736.8 378.7L734.6 388.4L739.2 398.5L734.2 407.2L733.3 416.8M722.5 308.6L728.8 310.6L732.9 298.3L738.5 294.1L734.5 280.8L747.4 281.4L759.2 276.5L772.9 268.4M466.3 193.3L472.7 185.8L472.1 176.6L477.6 173.1L471.0 162.2L475.2 157.9L483.9 152.6L491.6 148.9L498.8 152.9L508.3 151.1M471.0 162.2L466.1 173.9L447.9 178.2L431.6 173.6L419.9 170.5L408.7 175.6L393.9 178.0M393.9 178.0L389.5 184.0L376.8 184.3L367.8 191.3L349.4 194.0L349.0 199.2L342.5 207.9L341.4 217.1L333.3 220.9L335.6 226.4L331.0 231.0L326.2 229.5M348.9 194.0L343.5 186.4L337.7 180.3L338.8 163.4L339.9 162.8M393.9 178.0L394.6 165.4L379.3 148.9L362.4 150.8L351.1 152.6L339.9 162.8M339.9 162.8L337.6 152.7L328.5 142.0L320.6 143.5L317.3 141.9L310.4 152.6L311.9 162.8M291.3 144.1L293.7 138.6L291.6 127.8L297.3 120.3L308.5 112.7L309.6 118.9L318.5 123.5L334.1 132.7L328.5 142.0M379.3 148.9L382.2 132.0L393.0 120.9L381.6 112.0L378.0 102.9L384.3 90.4M384.3 90.4L392.4 102.5L419.0 104.5L445.6 105.5L462.4 92.7L479.7 87.4L499.8 90.3L515.9 95.9M384.3 90.4L373.1 81.5L369.7 78.5L356.6 71.1L355.4 66.5L358.5 60.3L343.3 43.6L332.6 33.0M309.6 112.7L315.3 99.0L307.7 88.2L312.2 69.8L304.6 70.6M304.6 70.6L293.9 64.0L279.8 64.7L259.6 57.9L246.3 65.1L234.8 58.4L234.1 70.7L243.1 89.5L253.6 100.7L265.3 113.4L273.8 125.9L272.2 129.6M274.1 130.5L285.9 136.9L291.4 141.0L291.3 144.1M304.6 70.6L313.3 60.6L304.8 51.3L302.9 38.1M189.1 47.4L197.7 47.1L210.9 43.3L225.6 48.8L234.7 38.5L248.2 22.2M533.6 46.3L517.5 48.0L502.0 44.2L498.3 28.3M51.4 84.8L55.7 74.0L42.1 67.4M666.1 503.4L668.2 506.2L663.4 515.2L666.1 524.1L675.9 533.6M666.1 503.4L670.3 509.6L677.9 519.3L686.4 528.9"/>
</g>
<g font-size="8.3" fill="#66666e" fill-opacity="0.8" text-anchor="middle">
<text x="65.3" y="52.4">1</text>
<text x="86.9" y="55.2">2</text>
<text x="108.5" y="57.7">3</text>
<text x="130.1" y="60.0">4</text>
<text x="151.7" y="62.1">4</text>
<text x="173.3" y="63.9">4</text>
<text x="194.9" y="65.5">4</text>
<text x="216.5" y="66.8">5</text>
<text x="238.1" y="67.9">7</text>
<text x="259.7" y="68.8">9</text>
<text x="281.3" y="69.4">10</text>
<text x="302.9" y="69.7">10</text>
<text x="324.5" y="69.8">11</text>
<text x="346.1" y="69.7">11</text>
<text x="367.7" y="69.4">11</text>
<text x="389.3" y="68.8">11</text>
<text x="410.9" y="67.9">11</text>
<text x="432.5" y="66.8">12</text>
<text x="454.1" y="65.5">12</text>
<text x="475.7" y="63.9">11</text>
<text x="497.3" y="62.1">11</text>
<text x="518.9" y="60.0">11</text>
<text x="540.5" y="57.7">12</text>
<text x="562.1" y="55.2">11</text>
<text x="583.7" y="52.4">12</text>
<text x="605.3" y="49.3">11</text>
<text x="626.9" y="46.1">10</text>
<text x="648.5" y="42.6">7</text>
<text x="60.9" y="82.7">2</text>
<text x="82.9" y="85.5">3</text>
<text x="104.9" y="88.2">4</text>
<text x="126.8" y="90.5">4</text>
<text x="148.8" y="92.6">4</text>
<text x="170.8" y="94.5">4</text>
<text x="192.7" y="96.1">5</text>
<text x="214.7" y="97.5">6</text>
<text x="236.6" y="98.6">6</text>
<text x="258.6" y="99.4">9</text>
<text x="280.6" y="100.1">9</text>
<text x="302.5" y="100.4">10</text>
<text x="324.5" y="100.5">11</text>
<text x="346.5" y="100.4">12</text>
<text x="368.4" y="100.1">12</text>
<text x="390.4" y="99.4">12</text>
<text x="412.4" y="98.6">12</text>
<text x="434.3" y="97.5">12</text>
<text x="456.3" y="96.1">12</text>
<text x="478.2" y="94.5">12</text>
<text x="500.2" y="92.6">11</text>
<text x="522.2" y="90.5">11</text>
<text x="544.1" y="88.2">11</text>
<text x="566.1" y="85.5">11</text>
<text x="588.1" y="82.7">11</text>
<text x="610.0" y="79.6">10</text>
<text x="632.0" y="76.3">9</text>
<text x="653.9" y="72.7">6</text>
<text x="675.9" y="68.8">6</text>
<text x="697.9" y="64.7">6</text>
<text x="719.8" y="60.4">5</text>
<text x="56.6" y="113.0">4</text>
<text x="78.9" y="115.9">4</text>
<text x="101.2" y="118.6">5</text>
<text x="123.6" y="121.0">5</text>
<text x="145.9" y="123.1">5</text>
<text x="168.2" y="125.0">5</text>
<text x="190.5" y="126.7">5</text>
<text x="212.9" y="128.1">7</text>
<text x="235.2" y="129.2">7</text>
<text x="257.5" y="130.1">7</text>
<text x="279.8" y="130.7">8</text>
<text x="302.2" y="131.1">11</text>
<text x="324.5" y="131.2">13</text>
<text x="346.8" y="131.1">11</text>
<text x="369.2" y="130.7">11</text>
<text x="391.5" y="130.1">11</text>
<text x="413.8" y="129.2">12</text>
<text x="436.1" y="128.1">12</text>
<text x="458.5" y="126.7">12</text>
<text x="480.8" y="125.0">12</text>
<text x="503.1" y="123.1">11</text>
<text x="525.4" y="121.0">11</text>
<text x="547.8" y="118.6">11</text>
<text x="570.1" y="115.9">11</text>
<text x="592.4" y="113.0">10</text>
<text x="614.7" y="109.9">9</text>
<text x="637.1" y="106.4">7</text>
<text x="659.4" y="102.8">6</text>
<text x="681.7" y="98.8">6</text>
<text x="704.0" y="94.7">6</text>
<text x="726.4" y="90.2">5</text>
<text x="74.9" y="146.3">5</text>
<text x="97.6" y="149.0">5</text>
<text x="120.3" y="151.5">4</text>
<text x="143.0" y="153.7">4</text>
<text x="165.7" y="155.6">4</text>
<text x="188.4" y="157.3">4</text>
<text x="211.1" y="158.7">5</text>
<text x="233.7" y="159.9">7</text>
<text x="256.4" y="160.8">8</text>
<text x="279.1" y="161.4">9</text>
<text x="301.8" y="161.8">10</text>
<text x="324.5" y="161.9">11</text>
<text x="347.2" y="161.8">12</text>
<text x="369.9" y="161.4">11</text>
<text x="392.6" y="160.8">12</text>
<text x="415.3" y="159.9">12</text>
<text x="437.9" y="158.7">12</text>
<text x="460.6" y="157.3">12</text>
<text x="483.3" y="155.6">12</text>
<text x="506.0" y="153.7">12</text>
<text x="528.7" y="151.5">11</text>
<text x="551.4" y="149.0">12</text>
<text x="574.1" y="146.3">11</text>
<text x="596.8" y="143.3">10</text>
<text x="619.5" y="140.1">9</text>
<text x="642.1" y="136.6">7</text>
<text x="664.8" y="132.9">6</text>
<text x="687.5" y="128.9">6</text>
<text x="710.2" y="124.6">5</text>
<text x="70.9" y="176.7">4</text>
<text x="94.0" y="179.5">5</text>
<text x="117.0" y="182.0">5</text>
<text x="140.1" y="184.2">4</text>
<text x="163.1" y="186.2">3</text>
<text x="186.2" y="187.9">4</text>
<text x="209.2" y="189.4">6</text>
<text x="232.3" y="190.5">7</text>
<text x="255.3" y="191.5">9</text>
<text x="278.4" y="192.1">10</text>
<text x="301.4" y="192.5">9</text>
<text x="324.5" y="192.7">10</text>
<text x="347.6" y="192.5">11</text>
<text x="370.6" y="192.1">10</text>
<text x="393.7" y="191.5">10</text>
<text x="416.7" y="190.5">11</text>
<text x="439.8" y="189.4">12</text>
<text x="462.8" y="187.9">12</text>
<text x="485.9" y="186.2">11</text>
<text x="508.9" y="184.2">12</text>
<text x="532.0" y="182.0">12</text>
<text x="555.0" y="179.5">11</text>
<text x="578.1" y="176.7">11</text>
<text x="601.1" y="173.7">10</text>
<text x="624.2" y="170.4">10</text>
<text x="647.2" y="166.8">10</text>
<text x="670.3" y="163.0">7</text>
<text x="693.3" y="158.9">5</text>
<text x="716.4" y="154.6">4</text>
<text x="66.9" y="207.1">3</text>
<text x="90.3" y="209.9">5</text>
<text x="113.8" y="212.5">5</text>
<text x="137.2" y="214.8">4</text>
<text x="160.6" y="216.8">3</text>
<text x="184.0" y="218.5">5</text>
<text x="207.4" y="220.0">6</text>
<text x="230.8" y="221.2">7</text>
<text x="254.3" y="222.1">9</text>
<text x="277.7" y="222.8">9</text>
<text x="301.1" y="223.2">9</text>
<text x="324.5" y="223.3">10</text>
<text x="347.9" y="223.2">12</text>
<text x="371.3" y="222.8">9</text>
<text x="394.7" y="222.1">10</text>
<text x="418.2" y="221.2">10</text>
<text x="441.6" y="220.0">12</text>
<text x="465.0" y="218.5">12</text>
<text x="488.4" y="216.8">13</text>
<text x="511.8" y="214.8">12</text>
<text x="535.2" y="212.5">11</text>
<text x="558.7" y="209.9">10</text>
<text x="582.1" y="207.1">11</text>
<text x="605.5" y="204.0">10</text>
<text x="628.9" y="200.6">10</text>
<text x="652.3" y="197.0">8</text>
<text x="675.7" y="193.1">8</text>
<text x="699.1" y="189.0">7</text>
<text x="722.6" y="184.5">10</text>
<text x="62.9" y="237.5">3</text>
<text x="86.7" y="240.4">3</text>
<text x="110.5" y="243.0">2</text>
<text x="134.3" y="245.3">4</text>
<text x="158.1" y="247.3">4</text>
<text x="181.8" y="249.1">6</text>
<text x="205.6" y="250.6">7</text>
<text x="229.4" y="251.9">8</text>
<text x="253.2" y="252.8">8</text>
<text x="276.9" y="253.5">8</text>
<text x="300.7" y="253.9">8</text>
<text x="324.5" y="254.0">9</text>
<text x="348.3" y="253.9">9</text>
<text x="372.1" y="253.5">8</text>
<text x="395.8" y="252.8">10</text>
<text x="419.6" y="251.9">11</text>
<text x="443.4" y="250.6">12</text>
<text x="467.2" y="249.1">12</text>
<text x="490.9" y="247.3">12</text>
<text x="514.7" y="245.3">11</text>
<text x="538.5" y="243.0">12</text>
<text x="562.3" y="240.4">11</text>
<text x="586.1" y="237.5">10</text>
<text x="609.8" y="234.3">8</text>
<text x="633.6" y="230.9">9</text>
<text x="657.4" y="227.2">8</text>
<text x="681.2" y="223.3">8</text>
<text x="704.9" y="219.0">10</text>
<text x="58.9" y="267.9">2</text>
<text x="83.1" y="270.8">2</text>
<text x="107.2" y="273.5">2</text>
<text x="131.4" y="275.8">4</text>
<text x="155.5" y="277.9">4</text>
<text x="179.7" y="279.7">4</text>
<text x="203.8" y="281.3">4</text>
<text x="227.9" y="282.5">6</text>
<text x="252.1" y="283.5">8</text>
<text x="276.2" y="284.2">8</text>
<text x="300.4" y="284.6">8</text>
<text x="324.5" y="284.8">9</text>
<text x="348.6" y="284.6">10</text>
<text x="372.8" y="284.2">9</text>
<text x="396.9" y="283.5">10</text>
<text x="421.1" y="282.5">10</text>
<text x="445.2" y="281.3">10</text>
<text x="469.3" y="279.7">11</text>
<text x="493.5" y="277.9">11</text>
<text x="517.6" y="275.8">10</text>
<text x="541.8" y="273.5">10</text>
<text x="565.9" y="270.8">10</text>
<text x="590.1" y="267.9">11</text>
<text x="614.2" y="264.7">10</text>
<text x="638.3" y="261.2">7</text>
<text x="662.5" y="257.4">8</text>
<text x="686.6" y="253.4">10</text>
<text x="710.8" y="249.1">12</text>
<text x="55.0" y="298.3">1</text>
<text x="79.5" y="301.3">2</text>
<text x="104.0" y="304.0">3</text>
<text x="128.5" y="306.4">3</text>
<text x="153.0" y="308.5">3</text>
<text x="177.5" y="310.3">6</text>
<text x="202.0" y="311.9">6</text>
<text x="226.5" y="313.2">7</text>
<text x="251.0" y="314.2">8</text>
<text x="275.5" y="314.9">9</text>
<text x="300.0" y="315.3">8</text>
<text x="324.5" y="315.5">9</text>
<text x="349.0" y="315.3">8</text>
<text x="373.5" y="314.9">8</text>
<text x="398.0" y="314.2">9</text>
<text x="422.5" y="313.2">9</text>
<text x="447.0" y="311.9">9</text>
<text x="471.5" y="310.3">9</text>
<text x="496.0" y="308.5">9</text>
<text x="520.5" y="306.4">9</text>
<text x="545.0" y="304.0">9</text>
<text x="569.5" y="301.3">12</text>
<text x="594.0" y="298.3">9</text>
<text x="618.5" y="295.0">10</text>
<text x="643.1" y="291.5">8</text>
<text x="667.6" y="287.7">10</text>
<text x="692.1" y="283.6">8</text>
<text x="716.6" y="279.2">7</text>
<text x="75.8" y="331.7">2</text>
<text x="100.7" y="334.5">4</text>
<text x="125.6" y="336.9">4</text>
<text x="150.4" y="339.1">4</text>
<text x="175.3" y="341.0">6</text>
<text x="200.2" y="342.5">7</text>
<text x="225.0" y="343.8">8</text>
<text x="249.9" y="344.9">8</text>
<text x="274.8" y="345.6">8</text>
<text x="299.6" y="346.0">8</text>
<text x="324.5" y="346.2">8</text>
<text x="349.4" y="346.0">9</text>
<text x="374.2" y="345.6">9</text>
<text x="399.1" y="344.9">9</text>
<text x="424.0" y="343.8">8</text>
<text x="448.8" y="342.5">8</text>
<text x="473.7" y="341.0">8</text>
<text x="498.6" y="339.1">8</text>
<text x="523.4" y="336.9">8</text>
<text x="548.3" y="334.5">7</text>
<text x="573.2" y="331.7">8</text>
<text x="598.0" y="328.7">8</text>
<text x="622.9" y="325.4">8</text>
<text x="647.8" y="321.8">7</text>
<text x="672.6" y="317.9">7</text>
<text x="697.5" y="313.7">7</text>
<text x="722.4" y="309.3">6</text>
<text x="72.2" y="362.2">3</text>
<text x="97.4" y="365.0">4</text>
<text x="122.7" y="367.5">5</text>
<text x="147.9" y="369.7">5</text>
<text x="173.1" y="371.6">7</text>
<text x="198.3" y="373.2">7</text>
<text x="223.6" y="374.5">8</text>
<text x="248.8" y="375.5">8</text>
<text x="274.0" y="376.3">8</text>
<text x="299.3" y="376.7">8</text>
<text x="324.5" y="376.9">8</text>
<text x="349.7" y="376.7">8</text>
<text x="375.0" y="376.3">8</text>
<text x="400.2" y="375.5">8</text>
<text x="425.4" y="374.5">7</text>
<text x="450.6" y="373.2">7</text>
<text x="475.9" y="371.6">7</text>
<text x="501.1" y="369.7">7</text>
<text x="526.3" y="367.5">7</text>
<text x="551.6" y="365.0">7</text>
<text x="576.8" y="362.2">7</text>
<text x="602.0" y="359.1">7</text>
<text x="627.3" y="355.8">7</text>
<text x="652.5" y="352.1">6</text>
<text x="677.7" y="348.2">6</text>
<text x="703.0" y="343.9">6</text>
<text x="728.2" y="339.4">6</text>
<text x="68.6" y="392.7">3</text>
<text x="94.2" y="395.5">4</text>
<text x="119.8" y="398.0">5</text>
<text x="145.3" y="400.3">6</text>
<text x="170.9" y="402.2">7</text>
<text x="196.5" y="403.8">7</text>
<text x="222.1" y="405.2">8</text>
<text x="247.7" y="406.2">8</text>
<text x="273.3" y="407.0">8</text>
<text x="298.9" y="407.4">8</text>
<text x="324.5" y="407.6">7</text>
<text x="350.1" y="407.4">7</text>
<text x="375.7" y="407.0">7</text>
<text x="401.3" y="406.2">7</text>
<text x="426.9" y="405.2">7</text>
<text x="452.5" y="403.8">7</text>
<text x="478.1" y="402.2">7</text>
<text x="503.7" y="400.3">7</text>
<text x="529.2" y="398.0">7</text>
<text x="554.8" y="395.5">7</text>
<text x="580.4" y="392.7">7</text>
<text x="606.0" y="389.6">6</text>
<text x="631.6" y="386.1">6</text>
<text x="657.2" y="382.4">6</text>
<text x="682.8" y="378.4">6</text>
<text x="708.4" y="374.1">6</text>
<text x="64.9" y="423.2">3</text>
<text x="90.9" y="426.0">4</text>
<text x="116.9" y="428.6">5</text>
<text x="142.8" y="430.9">6</text>
<text x="168.8" y="432.8">7</text>
<text x="194.7" y="434.5">8</text>
<text x="220.7" y="435.8">8</text>
<text x="246.6" y="436.9">8</text>
<text x="272.6" y="437.6">8</text>
<text x="298.5" y="438.1">7</text>
<text x="324.5" y="438.2">7</text>
<text x="350.5" y="438.1">6</text>
<text x="376.4" y="437.6">7</text>
<text x="402.4" y="436.9">7</text>
<text x="428.3" y="435.8">6</text>
<text x="454.3" y="434.5">6</text>
<text x="480.2" y="432.8">7</text>
<text x="506.2" y="430.9">7</text>
<text x="532.1" y="428.6">6</text>
<text x="558.1" y="426.0">6</text>
<text x="584.1" y="423.2">6</text>
<text x="610.0" y="420.0">6</text>
<text x="636.0" y="416.5">6</text>
<text x="661.9" y="412.7">6</text>
<text x="687.9" y="408.7">5</text>
<text x="713.8" y="404.3">5</text>
<text x="61.3" y="453.6">2</text>
<text x="87.6" y="456.6">4</text>
<text x="113.9" y="459.2">5</text>
<text x="140.3" y="461.4">6</text>
<text x="166.6" y="463.4">7</text>
<text x="192.9" y="465.1">7</text>
<text x="219.2" y="466.5">7</text>
<text x="245.5" y="467.6">8</text>
<text x="271.9" y="468.3">7</text>
<text x="298.2" y="468.8">7</text>
<text x="324.5" y="468.9">7</text>
<text x="350.8" y="468.8">6</text>
<text x="377.1" y="468.3">7</text>
<text x="403.5" y="467.6">4</text>
<text x="429.8" y="466.5">5</text>
<text x="456.1" y="465.1">6</text>
<text x="482.4" y="463.4">7</text>
<text x="508.7" y="461.4">6</text>
<text x="535.1" y="459.2">6</text>
<text x="561.4" y="456.6">6</text>
<text x="587.7" y="453.6">6</text>
<text x="614.0" y="450.4">6</text>
<text x="640.3" y="446.9">6</text>
<text x="666.6" y="443.1">6</text>
<text x="693.0" y="438.9">5</text>
<text x="719.3" y="434.5">5</text>
<text x="57.7" y="484.1">2</text>
<text x="84.4" y="487.1">5</text>
<text x="111.0" y="489.7">5</text>
<text x="137.7" y="492.0">6</text>
<text x="164.4" y="494.1">6</text>
<text x="191.1" y="495.8">7</text>
<text x="217.8" y="497.2">7</text>
<text x="244.5" y="498.3">7</text>
<text x="271.1" y="499.0">7</text>
<text x="297.8" y="499.5">7</text>
<text x="324.5" y="499.7">6</text>
<text x="351.2" y="499.5">6</text>
<text x="377.9" y="499.0">6</text>
<text x="404.5" y="498.3">2</text>
<text x="431.2" y="497.2">3</text>
<text x="457.9" y="495.8">4</text>
<text x="484.6" y="494.1">5</text>
<text x="511.3" y="492.0">6</text>
<text x="538.0" y="489.7">6</text>
<text x="564.6" y="487.1">5</text>
<text x="591.3" y="484.1">6</text>
<text x="618.0" y="480.9">6</text>
<text x="644.7" y="477.3">6</text>
<text x="671.4" y="473.4">6</text>
<text x="698.0" y="469.2">5</text>
<text x="724.7" y="464.7">5</text>
<text x="54.0" y="514.6">4</text>
<text x="81.1" y="517.6">6</text>
<text x="108.1" y="520.3">6</text>
<text x="135.2" y="522.6">5</text>
<text x="162.2" y="524.7">6</text>
<text x="189.3" y="526.4">6</text>
<text x="216.3" y="527.8">6</text>
<text x="243.4" y="528.9">6</text>
<text x="270.4" y="529.7">6</text>
<text x="297.5" y="530.2">6</text>
<text x="324.5" y="530.4">6</text>
<text x="351.5" y="530.2">7</text>
<text x="378.6" y="529.7">6</text>
<text x="405.6" y="528.9">3</text>
<text x="432.7" y="527.8">3</text>
<text x="459.7" y="526.4">4</text>
<text x="486.8" y="524.7">4</text>
<text x="513.8" y="522.6">4</text>
<text x="540.9" y="520.3">5</text>
<text x="567.9" y="517.6">5</text>
<text x="595.0" y="514.6">6</text>
<text x="622.0" y="511.3">6</text>
<text x="649.0" y="507.7">6</text>
<text x="676.1" y="503.8">5</text>
<text x="703.1" y="499.5">5</text>
</g>
<rect x="57.500" y="38.7" width="671.2" height="489.6" fill="none" stroke="#444" stroke-width="0.9"/>
<g font-size="14.7" fill="#000">
<text x="57.900" y="12" textLength="229.7" lengthAdjust="spacingAndGlyphs">Temperature Anomaly at 850 hPa (</text>
<text x="288.700" y="5.2" font-size="7.2">o</text>
<text x="293.300" y="12" textLength="13.6" lengthAdjust="spacingAndGlyphs">C)</text>
<text x="57.900" y="28" textLength="264.7" lengthAdjust="spacingAndGlyphs">(based on CFSR 1979-2010 climatology)</text>
<text x="501.200" y="13.2" font-size="15.3" textLength="219.2" lengthAdjust="spacingAndGlyphs">Init. time: Thu 01 Nov 2018 06z</text>
<text x="490.700" y="30.4" font-size="15.3" textLength="221.4" lengthAdjust="spacingAndGlyphs">Valid time: Fri 02 Nov 2018 12z</text>
<line x1="42.5" y1="78.9" x2="57.500" y2="78.9" stroke="#555" stroke-width="0.9"/><text x="-0.5" y="84.6">44°N</text><line x1="42.5" y1="141.0" x2="57.500" y2="141.0" stroke="#555" stroke-width="0.9"/><text x="-0.5" y="146.7">42°N</text><line x1="42.5" y1="203.0" x2="57.500" y2="203.0" stroke="#555" stroke-width="0.9"/><text x="-0.5" y="208.7">40°N</text><line x1="42.5" y1="265.0" x2="57.500" y2="265.0" stroke="#555" stroke-width="0.9"/><text x="-0.5" y="270.7">38°N</text><line x1="42.5" y1="327.0" x2="57.500" y2="327.0" stroke="#555" stroke-width="0.9"/><text x="-0.5" y="332.7">36°N</text><line x1="42.5" y1="388.6" x2="57.500" y2="388.6" stroke="#555" stroke-width="0.9"/><text x="-0.5" y="394.3">34°N</text><line x1="42.5" y1="450.6" x2="57.500" y2="450.6" stroke="#555" stroke-width="0.9"/><text x="-0.5" y="456.3">32°N</text><line x1="42.5" y1="512.7" x2="57.500" y2="512.7" stroke="#555" stroke-width="0.9"/><text x="-0.5" y="518.4">30°N</text><line x1="191.2" y1="528.5" x2="191.2" y2="542.5" stroke="#555" stroke-width="0.9"/><text x="191.2" y="564.5" text-anchor="middle">15°E</text><line x1="326.2" y1="528.5" x2="326.2" y2="542.5" stroke="#555" stroke-width="0.9"/><text x="326.2" y="564.5" text-anchor="middle">20°E</text><line x1="461.0" y1="528.5" x2="461.0" y2="542.5" stroke="#555" stroke-width="0.9"/><text x="461.0" y="564.5" text-anchor="middle">25°E</text><line x1="595.6" y1="528.5" x2="595.6" y2="542.5" stroke="#555" stroke-width="0.9"/><text x="595.6" y="564.5" text-anchor="middle">30°E</text>
</g>
<rect x="738.7" y="38.60" width="26.8" height="22.57" fill="#8E161B"/><rect x="738.7" y="60.87" width="26.8" height="22.57" fill="#B71C22"/><rect x="738.7" y="83.14" width="26.8" height="22.57" fill="#D8262A"/><rect x="738.7" y="105.40" width="26.8" height="22.57" fill="#E8562B"/><rect x="738.7" y="127.67" width="26.8" height="22.57" fill="#F57F2D"/><rect x="738.7" y="149.94" width="26.8" height="22.57" fill="#FA9D33"/><rect x="738.7" y="172.21" width="26.8" height="22.57" fill="#FDBB48"/><rect x="738.7" y="194.48" width="26.8" height="22.57" fill="#FDDA80"/><rect x="738.7" y="216.75" width="26.8" height="22.57" fill="#FDF0B8"/><rect x="738.7" y="239.01" width="26.8" height="22.57" fill="#FEF9E4"/><rect x="738.7" y="261.28" width="26.8" height="22.57" fill="#FFFFFF"/><rect x="738.7" y="283.55" width="26.8" height="22.57" fill="#FFFFFF"/><rect x="738.7" y="305.82" width="26.8" height="22.57" fill="#F0F9FD"/><rect x="738.7" y="328.09" width="26.8" height="22.57" fill="#DDF1FA"/><rect x="738.7" y="350.35" width="26.8" height="22.57" fill="#C5E8F8"/><rect x="738.7" y="372.62" width="26.8" height="22.57" fill="#A5DCF5"/><rect x="738.7" y="394.89" width="26.8" height="22.57" fill="#7FC5EA"/><rect x="738.7" y="417.16" width="26.8" height="22.57" fill="#5FABDF"/><rect x="738.7" y="439.43" width="26.8" height="22.57" fill="#3D82C6"/><rect x="738.7" y="461.70" width="26.8" height="22.57" fill="#2458A8"/><rect x="738.7" y="483.96" width="26.8" height="22.57" fill="#1F3F86"/><rect x="738.7" y="506.23" width="26.8" height="22.57" fill="#1A2B66"/><line x1="738.7" y1="60.87" x2="765.5" y2="60.87" stroke="#222" stroke-opacity="0.8" stroke-width="0.7"/><line x1="738.7" y1="83.14" x2="765.5" y2="83.14" stroke="#222" stroke-opacity="0.8" stroke-width="0.7"/><line x1="738.7" y1="105.40" x2="765.5" y2="105.40" stroke="#222" stroke-opacity="0.8" stroke-width="0.7"/><line x1="738.7" y1="127.67" x2="765.5" y2="127.67" stroke="#222" stroke-opacity="0.8" stroke-width="0.7"/><line x1="738.7" y1="149.94" x2="765.5" y2="149.94" stroke="#222" stroke-opacity="0.8" stroke-width="0.7"/><line x1="738.7" y1="172.21" x2="765.5" y2="172.21" stroke="#222" stroke-opacity="0.8" stroke-width="0.7"/><line x1="738.7" y1="194.48" x2="765.5" y2="194.48" stroke="#222" stroke-opacity="0.8" stroke-width="0.7"/><line x1="738.7" y1="216.75" x2="765.5" y2="216.75" stroke="#222" stroke-opacity="0.8" stroke-width="0.7"/><line x1="738.7" y1="239.01" x2="765.5" y2="239.01" stroke="#222" stroke-opacity="0.8" stroke-width="0.7"/><line x1="738.7" y1="261.28" x2="765.5" y2="261.28" stroke="#222" stroke-opacity="0.8" stroke-width="0.7"/><line x1="738.7" y1="283.55" x2="765.5" y2="283.55" stroke="#222" stroke-opacity="0.8" stroke-width="0.7"/><line x1="738.7" y1="305.82" x2="765.5" y2="305.82" stroke="#222" stroke-opacity="0.8" stroke-width="0.7"/><line x1="738.7" y1="328.09" x2="765.5" y2="328.09" stroke="#222" stroke-opacity="0.8" stroke-width="0.7"/><line x1="738.7" y1="350.35" x2="765.5" y2="350.35" stroke="#222" stroke-opacity="0.8" stroke-width="0.7"/><line x1="738.7" y1="372.62" x2="765.5" y2="372.62" stroke="#222" stroke-opacity="0.8" stroke-width="0.7"/><line x1="738.7" y1="394.89" x2="765.5" y2="394.89" stroke="#222" stroke-opacity="0.8" stroke-width="0.7"/><line x1="738.7" y1="417.16" x2="765.5" y2="417.16" stroke="#222" stroke-opacity="0.8" stroke-width="0.7"/><line x1="738.7" y1="439.43" x2="765.5" y2="439.43" stroke="#222" stroke-opacity="0.8" stroke-width="0.7"/><line x1="738.7" y1="461.70" x2="765.5" y2="461.70" stroke="#222" stroke-opacity="0.8" stroke-width="0.7"/><line x1="738.7" y1="483.96" x2="765.5" y2="483.96" stroke="#222" stroke-opacity="0.8" stroke-width="0.7"/><line x1="738.7" y1="506.23" x2="765.5" y2="506.23" stroke="#222" stroke-opacity="0.8" stroke-width="0.7"/><rect x="738.7" y="38.6" width="26.8" height="489.9" fill="none" stroke="#333" stroke-opacity="0.6" stroke-width="0.7"/>
<g font-size="14" fill="#000"><text x="770" y="72.2">10</text><text x="770" y="94.4">9</text><text x="770" y="116.7">8</text><text x="770" y="139.0">7</text><text x="770" y="161.2">6</text><text x="770" y="183.5">5</text><text x="770" y="205.8">4</text><text x="770" y="228.0">3</text><text x="770" y="250.3">2</text><text x="770" y="272.6">1</text><text x="770" y="294.9">0</text><text x="770" y="317.1">-1</text><text x="770" y="339.4">-2</text><text x="770" y="361.7">-3</text><text x="770" y="383.9">-4</text><text x="770" y="406.2">-5</text><text x="770" y="428.5">-6</text><text x="770" y="450.7">-7</text><text x="770" y="473.0">-8</text><text x="770" y="495.3">-9</text><text x="770" y="517.5">-10</text></g>
<text x="516.900" y="595.6" font-size="14.6" fill="#555" textLength="282.8" lengthAdjust="spacingAndGlyphs">(c)-National Observatory of Athens, Greece</text>
<g>
<path d="M28.4 555 H41.8 L50.8 564.3 L60.1 555 H73.1 V579.4 H61.3 V571 L54.6 577.8 Q53 579.4 51 579.4 H50.4 Q48.400 579.4 46.800 577.8 L39.800 571 V579.4 H28.4 Z" fill="#1414C9"/>
<circle cx="28.600" cy="554.8" r="7.7" fill="#FFD200"/>
<text x="79" y="564" font-size="12.3" fill="#2626C9">Meteo</text>
<text x="78.700" y="572.6" font-size="6" fill="#2626C9" textLength="22.8" lengthAdjust="spacingAndGlyphs">Όλα για</text>
<text x="78.900" y="580.1" font-size="6" fill="#2626C9" textLength="29.3" lengthAdjust="spacingAndGlyphs">τον καιρό</text>
</g>
</svg>
</body></html>
